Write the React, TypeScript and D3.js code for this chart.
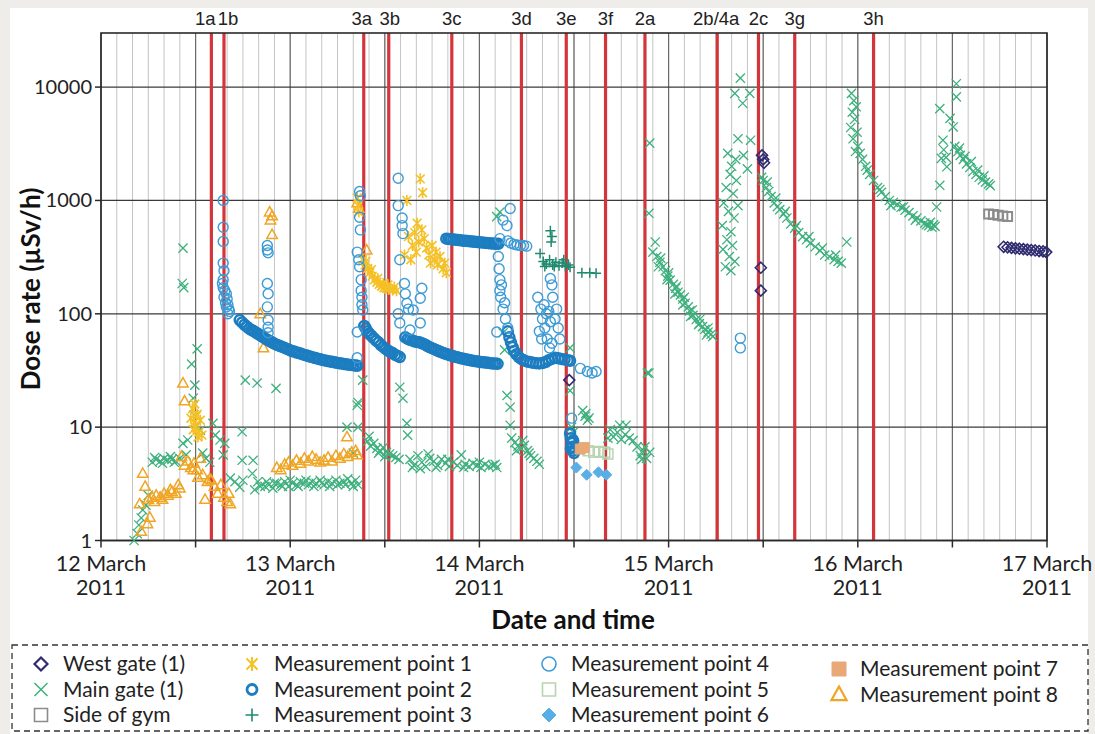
import React from 'react';
import * as d3 from 'd3';

// ---------- DATA (hours since 12 March 2011 00:00, dose rate µSv/h) ----------
const dayLabels = ['12 March', '13 March', '14 March', '15 March', '16 March', '17 March'];
const yearLabel = '2011';
const yTickValues = [1, 10, 100, 1000, 10000];

const eventLabels = ['1a', '1b', '3a', '3b', '3c', '3d', '3e', '3f', '2a', '2b/4a', '2c', '3g', '3h'];
const eventHours = [14, 15.6, 33.33, 36.5, 44.5, 53.33, 59.02, 64, 69, 78.17, 83.4, 88, 98];
const eventLabelShift = [-6, 4, -2, 1, 0, 0, 0, 0, 0, -1, 0, 0, 0];

const westGate: [number, number][] = [
  [59.4, 26], [83.85, 2500], [84.0, 2300], [84.1, 2150], [83.7, 255], [83.7, 160],
  [114.5, 390], [115.0, 386], [115.5, 382], [116.0, 378], [116.5, 375], [117.0, 372],
  [117.5, 368], [118.0, 365], [118.5, 362], [119.0, 358], [119.5, 355], [119.9, 350],
];

const mainGate: [number, number][] = [
  [4.2, 1.0], [4.6, 1.15], [4.8, 1.37], [5.1, 1.58], [5.3, 1.86], [5.7, 2.05], [6.0, 2.5],
  [6.5, 4.9], [7.0, 5.2], [7.5, 5.0], [8.0, 5.3], [8.5, 5.1], [9.0, 5.2], [9.5, 5.0], [10.0, 5.3],
  [6.8, 5.4], [7.8, 4.8], [8.8, 5.5], [9.3, 4.9],
  [10.4, 380], [10.3, 185], [10.5, 170],
  [10.4, 7.2], [11.0, 7.7], [10.8, 5.7],
  [11.5, 36], [12.2, 49], [11.9, 23.5], [11.7, 18], [11.8, 12.8], [12.2, 10.4], [12.6, 9.4],
  [12.9, 5.9], [13.3, 5.3], [13.8, 4.9], [14.2, 10.8], [14.5, 8.5], [15.1, 7.7], [15.7, 7.2], [15.5, 5.7],
  [16.4, 3.55], [17.0, 3.3], [17.6, 2.96], [18.0, 3.4],
  [17.9, 9.1], [17.9, 5.1], [19.3, 5.1], [18.3, 26], [19.8, 24.5], [22.2, 22],
  [19.2, 3.9], [19.5, 2.8], [19.9, 3.3], [20.2, 3.0],
  [20.8, 3.0], [21.3, 3.1], [21.8, 2.9], [22.3, 3.2], [22.8, 3.1], [23.3, 3.3], [23.8, 3.0], [24.3, 3.2],
  [24.8, 3.1], [25.3, 3.3], [25.8, 3.2], [26.3, 3.1], [26.8, 3.3], [27.3, 3.2], [27.8, 3.4], [28.3, 3.1],
  [28.8, 3.3], [29.3, 3.2], [29.8, 3.4], [30.3, 3.2], [30.8, 3.3], [31.3, 3.5], [31.8, 3.2], [32.3, 3.4],
  [32.6, 3.1], [21.0, 3.3], [22.0, 3.2], [23.0, 3.0], [24.0, 3.4], [25.0, 3.0], [26.0, 3.4], [27.0, 3.0],
  [28.0, 3.2], [29.0, 3.0], [30.0, 3.1], [31.0, 3.1], [32.0, 3.0],
  [32.5, 15.6], [32.6, 16.5], [33.2, 26], [32.6, 10], [31.2, 10], [32.0, 5.9],
  [33.8, 7.5], [34.2, 6.8], [34.6, 7.2], [35.0, 6.5], [35.4, 6.2], [35.8, 6.6], [36.2, 6.0], [36.6, 5.8],
  [37.0, 5.6], [37.4, 5.4], [37.8, 5.2], [34.0, 8.3], [35.2, 5.9], [36.0, 5.5],
  [37.9, 22.5], [38.3, 18], [38.8, 10.8], [38.9, 8.5],
  [39.2, 5.2], [39.7, 4.6], [40.2, 5.6], [40.7, 4.9], [41.2, 4.5], [41.7, 5.3], [42.2, 5.0], [42.7, 4.6],
  [43.2, 5.2], [43.7, 4.8], [44.2, 4.5], [44.7, 4.9], [45.2, 4.6], [45.7, 5.7], [46.2, 4.7], [46.7, 4.5],
  [47.2, 4.8], [47.7, 4.6], [48.2, 4.4], [48.7, 4.7], [49.2, 4.5], [49.7, 4.6], [50.2, 4.4],
  [39.5, 4.4], [40.5, 4.3], [41.5, 5.8], [42.5, 4.4], [44.0, 5.2], [46.0, 4.4], [48.0, 4.9], [50.0, 4.7],
  [50.6, 790], [50.2, 720], [51.0, 68], [51.2, 48], [51.5, 19], [51.9, 15], [51.9, 10.4],
  [52.1, 8.0], [52.5, 7.3], [52.9, 6.8], [53.3, 6.5], [53.7, 6.9], [54.1, 6.2], [54.5, 5.6], [54.9, 5.3],
  [55.3, 5.0], [55.6, 4.7], [52.7, 6.2], [53.5, 7.6], [54.3, 5.9],
  [59.5, 50], [59.5, 21], [59.7, 10], [59.9, 9],
  [61.1, 14], [61.4, 12.5], [61.7, 11.5], [61.5, 13.2], [61.9, 12],
  [64.6, 9.5], [65.0, 8.2], [65.5, 9.0], [66.0, 7.8], [66.5, 8.6], [67.0, 8.0], [65.8, 10.4], [64.3, 8.0],
  [67.5, 7.6], [66.6, 10.4],
  [68.0, 6.7], [68.4, 5.6], [68.8, 6.2], [69.2, 5.3], [69.6, 6.0], [68.6, 5.2], [69.0, 6.7],
  [69.3, 30], [69.6, 3200], [69.5, 770], [69.5, 30], [70.3, 430],
  [70.0, 350], [70.5, 320], [70.9, 285], [71.3, 260], [71.6, 240], [71.9, 215], [72.2, 198], [72.6, 182],
  [72.9, 168], [73.2, 155], [73.5, 147], [73.8, 135], [74.1, 124], [74.5, 115], [74.7, 106], [75.1, 97],
  [75.5, 89], [75.9, 82], [76.3, 77], [76.6, 73], [77.0, 69], [77.4, 66], [77.6, 63],
  [71.0, 310], [72.0, 230], [73.0, 175], [74.0, 140], [75.0, 108], [76.0, 90], [77.0, 75],
  [70.7, 260], [71.8, 200], [72.8, 150], [73.8, 120], [74.8, 95], [75.8, 80], [76.8, 65],
  [81.1, 12000], [80.4, 8800], [82.3, 8800], [81.4, 7200], [80.8, 3500], [82.4, 3400],
  [79.5, 2600], [80.5, 2300], [80.0, 2000], [79.8, 1700], [80.6, 1500], [79.3, 1300], [80.2, 1150],
  [79.0, 950], [80.8, 900], [79.6, 800], [80.3, 700], [78.8, 600], [79.9, 530], [79.4, 450], [80.1, 400],
  [78.9, 370], [79.7, 320], [80.4, 290], [79.2, 260], [79.9, 240], [81.5, 2500], [82.0, 1900],
  [83.8, 1600], [84.0, 1500], [84.4, 1300], [84.7, 1200], [85.0, 1080], [85.4, 950], [85.8, 880],
  [86.1, 830], [86.6, 760], [87.0, 700], [87.5, 620], [88.0, 570], [88.5, 520], [89.0, 480], [89.5, 450],
  [90.0, 420], [90.6, 390], [91.2, 360], [91.8, 330], [92.4, 320], [93.0, 300], [93.5, 290], [93.9, 280],
  [84.5, 1450], [85.6, 1050], [86.8, 800], [88.2, 600], [89.8, 480], [91.5, 380], [93.2, 330],
  [94.6, 430],
  [95.2, 8800], [95.5, 7600], [95.8, 6700], [95.3, 6000], [95.6, 5200], [95.1, 4400], [95.9, 4000],
  [95.4, 3500], [96.0, 3000], [95.7, 2700],
  [96.3, 2600], [96.6, 2300], [97.0, 2000], [97.5, 1700], [98.0, 1500], [98.5, 1300], [99.0, 1180],
  [99.5, 1080], [100.0, 1000], [100.5, 960], [101.0, 920], [101.5, 870], [102.0, 820], [102.5, 780],
  [103.0, 730], [103.5, 700], [104.0, 660], [104.5, 630], [105.0, 600], [105.4, 580], [105.8, 590],
  [97.2, 1850], [98.8, 1250], [100.2, 900], [101.8, 880], [103.3, 670], [104.7, 610], [105.2, 640], [105.6, 610],
  [106.0, 875], [106.4, 1360], [106.6, 2350], [106.8, 3400], [107.3, 1980], [106.4, 6450], [107.7, 5300],
  [108.1, 4450], [108.5, 10700], [108.5, 8200], [106.9, 2800], [107.2, 2400],
  [108.3, 3000], [108.7, 2700], [109.0, 2500], [109.4, 2300], [109.8, 2100], [110.2, 1950], [110.6, 1800],
  [111.0, 1700], [111.4, 1600], [111.8, 1520], [112.2, 1450], [112.6, 1400], [112.8, 1350],
  [108.9, 2900], [109.6, 2450], [110.4, 2200], [111.2, 1850], [112.0, 1650],
];

const sideOfGym: [number, number][] = [
  [112.6, 760], [113.2, 750], [113.8, 740], [114.4, 730], [115.0, 720],
];

const mp1: [number, number][] = [
  [11.4, 12], [11.6, 14.5], [11.8, 11], [12.0, 10], [12.2, 13], [12.4, 9], [12.6, 11.5], [12.8, 8.5],
  [11.9, 16], [12.3, 8.2], [12.1, 12.5], [11.7, 9.5],
  [32.5, 1050], [32.6, 900], [32.7, 790],
  [33.2, 300], [33.5, 270], [33.8, 250], [34.1, 230], [34.4, 215], [34.7, 200], [35.0, 190], [35.3, 182],
  [35.6, 175], [35.9, 170], [36.2, 168], [36.5, 165], [37.0, 162], [37.5, 160], [33.6, 290], [34.3, 245],
  [35.1, 205], [35.8, 185], [36.4, 180], [37.2, 172],
  [38.8, 1000], [40.5, 1550], [40.8, 1170], [40.1, 630], [40.7, 550], [39.0, 480], [39.5, 400], [40.0, 350],
  [40.3, 430], [41.0, 460], [41.3, 380], [41.6, 330], [42.0, 400], [42.3, 300], [42.7, 270], [43.0, 320],
  [43.4, 250], [43.8, 230], [39.3, 300], [41.8, 280], [42.5, 350], [43.6, 280], [39.8, 520], [38.5, 330],
];

const mp2: [number, number][] = [
  [17.6, 88], [17.9, 84], [18.2, 80], [18.5, 77], [18.8, 74], [19.1, 72], [19.4, 70], [19.7, 68], [20.0, 66],
  [20.3, 64], [20.6, 62], [20.9, 60], [21.2, 58.5], [21.5, 57], [21.8, 55.5], [22.1, 54], [22.4, 53],
  [22.7, 52], [23.0, 51], [23.3, 50], [23.6, 49], [23.9, 48], [24.2, 47], [24.5, 46.5], [24.8, 45.5],
  [25.1, 45], [25.4, 44.3], [25.7, 43.6], [26.0, 43], [26.3, 42.4], [26.6, 41.8], [26.9, 41.2], [27.2, 40.7],
  [27.5, 40.2], [27.8, 39.7], [28.1, 39.2], [28.4, 38.8], [28.7, 38.4], [29.0, 38], [29.3, 37.7], [29.6, 37.3],
  [29.9, 37], [30.2, 36.7], [30.5, 36.4], [30.8, 36.1], [31.1, 35.9], [31.4, 35.6], [31.7, 35.4], [32.0, 35.2],
  [32.3, 35], [32.5, 34.8],
  [33.4, 78], [33.6, 74], [33.8, 70], [34.0, 67], [34.3, 64], [34.6, 61], [34.9, 58], [35.2, 56], [35.5, 53],
  [35.8, 51], [36.1, 49], [36.4, 47.5], [36.7, 46], [37.0, 45], [37.3, 43.5], [37.6, 42.5], [37.9, 41.5],
  [38.6, 62], [38.9, 60], [39.2, 59], [39.5, 58], [39.8, 57], [40.1, 56.5], [40.4, 56], [40.7, 55], [41.0, 54],
  [41.3, 52.5], [41.6, 51], [41.9, 50], [42.2, 49], [42.5, 48], [42.8, 47], [43.1, 46], [43.4, 45.2],
  [43.7, 44.4], [44.0, 43.7], [44.3, 43], [44.6, 42.4], [44.9, 41.8], [45.2, 41.3], [45.5, 40.8], [45.8, 40.3],
  [46.1, 39.9], [46.4, 39.5], [46.7, 39.1], [47.0, 38.7], [47.3, 38.4], [47.6, 38.1], [47.9, 37.8], [48.2, 37.5],
  [48.5, 37.3], [48.8, 37.1], [49.1, 36.9], [49.4, 36.7], [49.7, 36.5], [50.0, 36.4], [50.3, 36.2],
  [43.8, 460], [44.1, 458], [44.4, 455], [44.7, 452], [45.0, 450], [45.3, 447], [45.6, 445], [45.9, 442],
  [46.2, 440], [46.5, 438], [46.8, 436], [47.1, 434], [47.4, 432], [47.7, 430], [48.0, 428], [48.3, 426],
  [48.6, 424], [48.9, 422], [49.2, 420], [49.5, 418], [49.8, 417], [50.1, 415], [50.4, 414],
  [51.6, 70], [51.8, 62], [52.0, 56], [52.2, 51], [52.4, 47], [52.7, 44], [53.0, 41.5], [53.3, 40], [53.6, 39],
  [54.0, 38], [54.4, 37.5], [54.8, 37], [55.2, 36.7], [55.6, 36.5], [56.0, 36.8], [56.4, 37.5], [56.8, 39],
  [57.2, 40], [57.6, 41], [58.0, 40.5], [58.4, 40], [58.8, 39.5], [59.2, 39], [59.5, 38.5],
  [59.5, 8.8], [59.6, 8.0], [59.7, 7.3], [59.8, 6.7], [59.9, 6.2], [60.0, 5.9], [59.6, 6.5], [59.9, 7.6],
];

const mp3: [number, number][] = [
  [55.7, 340], [57.0, 540], [57.2, 480], [57.1, 430],
  [56.1, 290], [56.5, 275], [56.9, 300], [57.3, 270], [57.7, 285], [58.1, 265], [58.5, 280], [58.9, 262],
  [59.3, 270], [59.5, 258], [56.3, 262], [57.5, 262], [58.7, 300],
  [61.0, 230], [62.0, 230], [62.8, 228],
];

const mp4: [number, number][] = [
  [15.5, 1000], [15.5, 580], [15.5, 435], [15.5, 280], [15.6, 240], [15.5, 200], [15.4, 185], [15.5, 170],
  [15.7, 160], [15.9, 150], [15.6, 140], [16.0, 135], [15.8, 125], [16.1, 120], [15.9, 115], [16.2, 110],
  [16.3, 105], [16.1, 100],
  [21.1, 400], [21.1, 365], [21.2, 345], [21.1, 185], [21.2, 150], [21.1, 115], [21.2, 88], [21.2, 76], [21.2, 68],
  [32.8, 1200], [32.9, 1100], [32.8, 710], [32.9, 550], [32.5, 350], [32.8, 260], [33.0, 200], [33.1, 140],
  [33.2, 108], [32.5, 69], [32.5, 41], [33.0, 160], [32.7, 300], [33.1, 120],
  [37.7, 1570], [37.7, 900], [38.2, 700], [38.2, 600], [38.3, 510], [37.9, 300], [38.5, 185], [38.8, 124],
  [40.7, 168], [40.5, 137], [39.6, 108], [40.5, 83], [37.7, 100], [37.9, 83], [39.2, 72], [38.6, 150], [39.0, 110],
  [51.9, 850], [51.0, 670], [51.5, 600], [50.6, 460], [50.4, 320], [50.5, 250], [50.6, 200], [50.6, 160],
  [50.7, 140], [51.0, 110], [51.3, 90], [51.6, 75], [50.2, 69], [50.8, 180], [51.2, 125],
  [51.6, 440], [52.0, 420], [52.4, 410], [52.8, 405], [53.2, 400], [53.6, 400], [54.0, 395],
  [55.4, 140], [55.8, 110], [56.0, 90], [56.3, 75], [56.6, 60], [56.9, 50], [57.2, 55], [55.6, 70],
  [56.2, 120], [57.0, 85], [56.8, 105], [55.9, 60], [56.5, 100], [57.3, 140], [57.0, 205], [57.2, 180],
  [57.8, 110], [58.0, 75], [58.2, 60], [57.6, 90],
  [59.7, 12], [60.8, 33], [61.7, 31], [62.3, 30], [62.8, 31],
  [81.1, 61], [81.1, 50],
];

const mp5: [number, number][] = [
  [61.8, 6.2], [62.5, 6.0], [63.2, 6.1], [63.9, 6.0], [64.3, 5.8],
];

const mp6: [number, number][] = [
  [60.3, 4.4], [61.6, 3.8], [63.1, 4.0], [64.1, 3.8],
];

const mp7: [number, number][] = [
  [60.8, 6.4], [61.3, 6.6],
];

const mp8: [number, number][] = [
  [5.3, 3.9], [5.6, 3.0], [6.0, 2.3], [6.2, 1.6], [5.9, 1.4], [4.9, 2.1], [5.1, 1.2],
  [6.5, 2.4], [7.0, 2.5], [7.5, 2.4], [8.0, 2.6], [8.5, 2.5], [9.0, 2.7], [9.5, 2.6], [10.0, 2.9],
  [6.8, 2.2], [7.8, 2.3], [8.8, 2.8], [9.8, 3.1],
  [10.4, 24.5], [10.6, 17],
  [10.2, 5.5], [10.6, 4.6], [11.0, 5.0], [11.4, 4.4], [11.8, 4.8], [12.2, 4.2], [12.6, 5.3],
  [11.7, 4.2], [12.3, 3.6], [12.9, 3.8], [13.5, 3.3], [13.8, 3.5],
  [14.0, 3.4], [14.4, 3.0], [14.8, 2.6], [15.2, 3.1], [15.6, 2.4], [16.0, 2.2], [16.4, 2.1], [13.2, 2.3], [16.2, 2.6],
  [21.4, 790], [21.7, 730], [21.5, 670], [21.7, 500], [20.2, 100], [20.6, 50],
  [22.3, 4.4], [22.8, 4.2], [23.3, 4.7], [23.8, 4.9], [24.3, 4.6], [24.8, 5.1], [25.3, 4.8], [25.8, 5.3],
  [26.3, 5.0], [26.8, 5.5], [27.3, 5.2], [27.8, 4.9], [28.3, 5.1], [28.8, 5.4], [29.3, 5.0], [29.8, 5.6],
  [30.3, 5.3], [30.8, 5.8], [31.3, 5.5], [31.8, 6.0], [32.3, 6.2], [32.5, 5.7], [31.2, 8.2],
  [32.5, 950], [32.7, 850], [33.7, 365],
];

// ---------- STYLES ----------
const C = {
  west: '#2e2b70', main: '#3db07d', gym: '#8c8c8c', mp1: '#f5c024', mp2: '#1c7dc0', mp3: '#1f8a6f',
  mp4: '#3c9bd6', mp5: '#b9d4b1', mp6: '#5aaee6', mp7: '#e8a878', mp8: '#f0a524', red: '#d4353b',
};

type Shape = 'diamond' | 'x' | 'square' | 'asterisk' | 'circle' | 'plus' | 'triangle';
interface Style { shape: Shape; color: string; size: number; sw: number; fill?: string; }

const shapePath = (shape: Shape, s: number): string => {
  switch (shape) {
    case 'x': return `M${-s},${-s}L${s},${s}M${-s},${s}L${s},${-s}`;
    case 'plus': return `M${-s},0L${s},0M0,${-s}L0,${s}`;
    case 'asterisk': return `M${-s * 0.8},${-s * 0.8}L${s * 0.8},${s * 0.8}M${-s * 0.8},${s * 0.8}L${s * 0.8},${-s * 0.8}M0,${-s}L0,${s}`;
    case 'triangle': return `M0,${-s}L${s * 0.95},${s * 0.7}L${-s * 0.95},${s * 0.7}Z`;
    case 'diamond': return `M0,${-s}L${s},0L0,${s}L${-s},0Z`;
    case 'square': return `M${-s},${-s}h${2 * s}v${2 * s}h${-2 * s}Z`;
    case 'circle': return d3.symbol(d3.symbolCircle, Math.PI * s * s)() as string;
  }
};

const st: Record<string, Style> = {
  west: { shape: 'diamond', color: C.west, size: 5.5, sw: 1.6 },
  main: { shape: 'x', color: C.main, size: 4.6, sw: 1.3 },
  gym: { shape: 'square', color: C.gym, size: 4.5, sw: 2 },
  mp1: { shape: 'asterisk', color: C.mp1, size: 5.5, sw: 1.6 },
  mp2: { shape: 'circle', color: C.mp2, size: 5, sw: 2.5 },
  mp3: { shape: 'plus', color: C.mp3, size: 5, sw: 1.5 },
  mp4: { shape: 'circle', color: C.mp4, size: 5, sw: 1.4 },
  mp5: { shape: 'square', color: C.mp5, size: 5, sw: 1.5 },
  mp6: { shape: 'diamond', color: C.mp6, size: 5.5, sw: 1, fill: C.mp6 },
  mp7: { shape: 'square', color: C.mp7, size: 5, sw: 1, fill: C.mp7 },
  mp8: { shape: 'triangle', color: C.mp8, size: 5.5, sw: 1.5 },
};

const legendStyle: Record<string, Style> = {
  west: { ...st.west, size: 6.5, sw: 2.2 },
  main: { ...st.main, size: 6.5, sw: 1.5 },
  gym: { ...st.gym, size: 6.5, sw: 1.6 },
  mp1: { ...st.mp1, size: 7, sw: 2 },
  mp2: { ...st.mp2, size: 5, sw: 2.8 },
  mp3: { ...st.mp3, size: 6.5, sw: 1.6 },
  mp4: { ...st.mp4, size: 7, sw: 1.6 },
  mp5: { ...st.mp5, size: 6.5, sw: 1.6 },
  mp6: { ...st.mp6, size: 7 },
  mp7: { ...st.mp7, size: 7 },
  mp8: { ...st.mp8, size: 8, sw: 2.2 },
};

const seriesOrder: [string, [number, number][]][] = [
  ['main', mainGate], ['mp8', mp8], ['mp1', mp1], ['mp2', mp2], ['mp4', mp4], ['mp3', mp3],
  ['mp5', mp5], ['mp7', mp7], ['mp6', mp6], ['gym', sideOfGym], ['west', westGate],
];

const legendItems: { key: string; label: string; col: number; row: number }[] = [
  { key: 'west', label: 'West gate (1)', col: 0, row: 0 },
  { key: 'main', label: 'Main gate (1)', col: 0, row: 1 },
  { key: 'gym', label: 'Side of gym', col: 0, row: 2 },
  { key: 'mp1', label: 'Measurement point 1', col: 1, row: 0 },
  { key: 'mp2', label: 'Measurement point 2', col: 1, row: 1 },
  { key: 'mp3', label: 'Measurement point 3', col: 1, row: 2 },
  { key: 'mp4', label: 'Measurement point 4', col: 2, row: 0 },
  { key: 'mp5', label: 'Measurement point 5', col: 2, row: 1 },
  { key: 'mp6', label: 'Measurement point 6', col: 2, row: 2 },
  { key: 'mp7', label: 'Measurement point 7', col: 3, row: 0 },
  { key: 'mp8', label: 'Measurement point 8', col: 3, row: 1 },
];

const W = 1095, H = 734;
const L = 101, R = 1047, T = 33, B = 540.5;
const BASE = new Date(2011, 2, 12, 0, 0, 0);
const at = (h: number) => new Date(BASE.getTime() + h * 3600 * 1000);
const FONT = 'Lato, "Open Sans", sans-serif';

const Marker = ({ s, x, y }: { s: Style; x: number; y: number }) => (
  <path d={shapePath(s.shape, s.size)} transform={`translate(${x},${y})`}
    fill={s.fill ?? 'none'} stroke={s.color} strokeWidth={s.sw} />
);

export default function App() {
  const x = d3.scaleTime().domain([at(0), at(120)]).range([L, R]);
  const y = d3.scaleLog().domain([1, 30000]).range([B, T]);

  const h2 = d3.timeHour.every(2)!.range(at(0), at(120.01));
  const h12 = d3.timeHour.every(12)!.range(at(0), at(120.01));
  const days = d3.timeDay.range(at(0), at(120.01));

  const colSym = [41, 252, 549, 839];
  const colTxt = [63, 274, 571, 860];
  const rowY = [[664, 689.5, 715], [664, 689.5, 715], [664, 689.5, 715], [669, 694.5]];

  return (
    <svg width={W} height={H} style={{ position: 'absolute', left: 0, top: 0 }} fontFamily={FONT}>
      <rect x={0} y={0} width={W} height={H} fill="#eeede9" />
      <rect x={10} y={8} width={1078} height={H - 8} fill="#ffffff" />

      {/* grid */}
      {h2.map((d, i) => (
        <line key={'g2' + i} x1={x(d)} x2={x(d)} y1={T} y2={B} stroke="#c4c4c4" strokeWidth={1} />
      ))}
      {h12.map((d, i) => (
        <line key={'g12' + i} x1={x(d)} x2={x(d)} y1={T} y2={B} stroke="#6a6a6a" strokeWidth={1.2} />
      ))}
      {yTickValues.map((v) => (
        <line key={'gy' + v} x1={L} x2={R} y1={y(v)} y2={y(v)} stroke="#3a3a3a" strokeWidth={1.3} />
      ))}

      {/* event lines */}
      {eventHours.map((h, i) => (
        <g key={'ev' + i}>
          <line x1={x(at(h))} x2={x(at(h))} y1={T} y2={B} stroke={C.red} strokeWidth={3.2} />
          <text x={x(at(h)) + eventLabelShift[i]} y={25} textAnchor="middle" fontSize={18.5}
            fontFamily='"Liberation Sans", Arial, sans-serif' fill="#222">{eventLabels[i]}</text>
        </g>
      ))}

      {/* frame */}
      <rect x={L} y={T} width={R - L} height={B - T} fill="none" stroke="#2a2a2a" strokeWidth={1.6} />

      {/* data */}
      {seriesOrder.map(([key, data]) => (
        <g key={key}>
          {data.map(([h, v], i) => <Marker key={i} s={st[key]} x={x(at(h))} y={y(v)} />)}
        </g>
      ))}

      {/* y axis */}
      {yTickValues.map((v) => (
        <g key={'yt' + v}>
          <line x1={L - 6} x2={L} y1={y(v)} y2={y(v)} stroke="#2a2a2a" strokeWidth={1.5} />
          <text x={L - 9} y={y(v)} dy="0.35em" textAnchor="end" fontSize={20} fill="#222">{d3.format('d')(v)}</text>
        </g>
      ))}
      {/* x axis */}
      {h12.map((d, i) => (
        <line key={'xt' + i} x1={x(d)} x2={x(d)} y1={B} y2={B + 7} stroke="#2a2a2a" strokeWidth={1.5} />
      ))}
      {days.map((d, i) => (
        <g key={'xl' + i}>
          <text x={x(d)} y={571} textAnchor="middle" fontSize={21.5} fill="#222">{dayLabels[i]}</text>
          <text x={x(d)} y={595} textAnchor="middle" fontSize={21.5} fill="#222">{yearLabel}</text>
        </g>
      ))}

      <text transform="translate(40,289) rotate(-90)" textAnchor="middle" fontSize={26} fontWeight="bold" fill="#111">Dose rate (µSv/h)</text>
      <text x={573} y={629} textAnchor="middle" fontSize={26} fontWeight="bold" fill="#111">Date and time</text>

      {/* legend */}
      <rect x={12} y={645} width={1076} height={86} fill="none" stroke="#333" strokeWidth={1.3} strokeDasharray="6,4" />
      {legendItems.map((it) => {
        const yy = rowY[it.col][it.row];
        return (
          <g key={'lg' + it.key}>
            <Marker s={legendStyle[it.key]} x={colSym[it.col]} y={yy} />
            <text x={colTxt[it.col]} y={yy} dy="0.35em" fontSize={21} fill="#222">{it.label}</text>
          </g>
        );
      })}
    </svg>
  );
}
